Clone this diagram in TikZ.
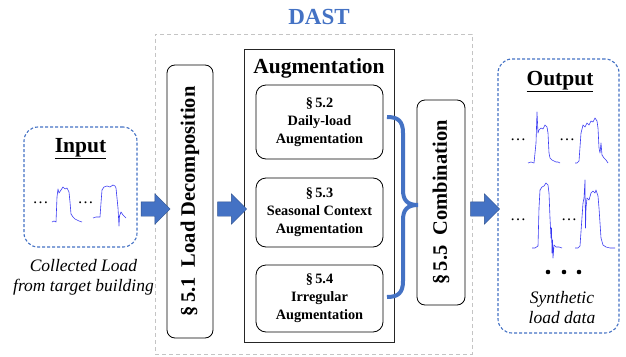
\documentclass[tikz,border=0pt]{standalone}
\usepackage{fontspec}
\setmainfont{Liberation Serif}
\usetikzlibrary{calc,shapes.arrows}
\definecolor{dastblue}{HTML}{4472C4}
\definecolor{arrowedge}{HTML}{2F528F}
\definecolor{loadblue}{HTML}{3A3AF2}
\definecolor{framegray}{HTML}{C4C4C4}

\begin{document}
\begin{tikzpicture}[x=1pt,y=-1pt,
  panel/.style={draw=dastblue, dash pattern=on 3pt off 2pt, line width=1.1pt,
    rounded corners=14pt, inner sep=0pt, outer sep=0pt},
  stage/.style={draw=black, line width=0.8pt, rounded corners=8pt, inner sep=0pt,
    outer sep=0pt, rotate=90, font=\fontsize{20.5}{24}\selectfont\bfseries},
  substage/.style={draw=black, line width=0.8pt, rounded corners=10pt, inner sep=0pt,
    outer sep=0pt, minimum width=127pt, align=center,
    font=\fontsize{14.3}{18}\selectfont\bfseries},
  blockarrow/.style={single arrow, fill=dastblue, draw=arrowedge, line width=0.4pt,
    inner xsep=0pt, inner ysep=7pt, minimum height=29pt,
    single arrow head extend=8pt},
  title/.style={font=\fontsize{21.5}{25}\selectfont\bfseries},
  caption/.style={align=center, font=\fontsize{17.5}{20}\selectfont\itshape},
  gap/.style={font=\fontsize{16}{18}\selectfont, inner sep=0pt},
  loadline/.style={draw=loadblue, line width=0.6pt, line join=round},
]
\useasboundingbox (0,0) rectangle (626,356);

% framework frame and its name
\node[draw=framegray, dash pattern=on 4pt off 3pt, line width=0.9pt,
  minimum width=317pt, minimum height=320pt, inner sep=0pt] (dast) at (313.5,194) {};
\node[font=\fontsize{23}{26}\selectfont\bfseries, text=dastblue, anchor=base]
  (dastname) at (319,24) {DAST};

% input panel
\node[panel, minimum width=113pt, minimum height=120pt] (inbox) at (80.5,187) {};
\node[title, anchor=base] (intitle) at (80.5,152) {\underline{Input}};
\node[gap, anchor=base] (indots1) at (40.5,203) {\dots};
\node[gap, anchor=base] (indots2) at (85.5,203) {\dots};
\draw[loadline, shift={(52,222)}] (0,0) -- (2,-1) -- (4,0) -- (5,-25) -- (6,-33)
  -- (7,-29) -- (9,-32) -- (11,-35) -- (13,-33) -- (15,-34) -- (17,-30) -- (18,-20)
  -- (19,-8) -- (21,-5) -- (23,-3) -- (25,-2) -- (27,-1) -- (30,0);
\draw[loadline, shift={(93,218)}] (0,0) -- (3,-1) -- (7,-1) -- (8,-15) -- (9,-28)
  -- (11,-31) -- (14,-32) -- (17,-31) -- (20,-33) -- (22,-32) -- (23,-30) -- (24,-20)
  -- (25,-10) -- (26,8) -- (26.5,-2) -- (28,-6) -- (30,-3) -- (33,0);
\node[caption] (incap) at (83.5,277) {Collected Load\\from target building};

% decomposition stage
\node[stage, minimum width=273pt, minimum height=46pt] (dec) at (190,201.5)
  {\S\,5.1\ \ Load Decomposition};

% augmentation group
\node[draw=black!85, line width=0.9pt, minimum width=150pt, minimum height=293pt,
  inner sep=0pt, outer sep=0pt] (aug) at (319,195.5) {};
\node[title, anchor=base] (augtitle) at (319,73.5) {Augmentation};
\node[substage, minimum height=74pt] (daily) at (319.5,122)
  {\S\,5.2\\Daily-load\\Augmentation};
\node[substage, minimum height=69pt] (season) at (319.5,212.5)
  {\S\,5.3\\Seasonal Context\\Augmentation};
\node[substage, minimum height=67pt] (irreg) at (319.5,298.5)
  {\S\,5.4\\Irregular\\Augmentation};

% combination stage
\node[stage, minimum width=205pt, minimum height=48pt] (comb) at (441,202.5)
  {\S\,5.5\ \ Combination};

% brace gathering the three augmentations
\coordinate (bracetop) at (387,117);
\coordinate (bracetip) at (418,205);
\coordinate (bracebot) at (387,297);
\draw[dastblue, line width=4pt] (bracetop)
  .. controls (398,117) and (403,121) .. (403,133) -- (403,190)
  .. controls (403,200) and (407,205) .. (bracetip)
  .. controls (407,205) and (403,210) .. (403,220) -- (403,281)
  .. controls (403,293) and (398,297) .. (bracebot);

% output panel
\node[panel, minimum width=121pt, minimum height=274pt] (outbox) at (558.5,196) {};
\node[title, anchor=base] (outtitle) at (560,85) {\underline{Output}};
\node[gap, anchor=base] (outdots1) at (518,140) {\dots};
\node[gap, anchor=base] (outdots2) at (567,140) {\dots};
\node[gap, anchor=base] (outdots3) at (518,220) {\dots};
\node[gap, anchor=base] (outdots4) at (569,220) {\dots};
\draw[loadline, shift={(528,163)}] (0,0) -- (3,-1) -- (6,0) -- (8,-20) -- (9,-51)
  -- (10,-30) -- (11,-33) -- (13,-35) -- (15,-34) -- (17,-38) -- (19,-36) -- (20,-30)
  -- (21,-10) -- (22,-5) -- (24,-3) -- (26,-2) -- (28,-1) -- (30,-1) -- (32,0);
\draw[loadline, shift={(575,163)}] (0,0) -- (2,0) -- (4,-2) -- (6,-30) -- (8,-38)
  -- (10,-36) -- (12,-40) -- (14,-38) -- (16,-42) -- (18,-41) -- (20,-45) -- (22,-42)
  -- (23,-35) -- (24,-15) -- (25,-10) -- (26,-20) -- (27,-8) -- (29,-5) -- (31,-3)
  -- (33,0);
\draw[loadline, shift={(532,248)}] (0,0) -- (3,0) -- (6,-2) -- (7,-40) -- (8,-58)
  -- (10,-61) -- (12,-62) -- (14,-65) -- (16,-63) -- (17,-55) -- (18,-30) -- (19,-10)
  -- (19.5,-20) -- (20,5) -- (20.5,-8) -- (21,10) -- (22,-3) -- (24,-1) -- (27,-1)
  -- (30,0);
\draw[loadline, shift={(575,248)}] (0,0) -- (3,0) -- (5,-2) -- (8,-45) -- (9,-50)
  -- (10,-68) -- (10.5,-20) -- (11,-40) -- (12,-50) -- (14,-48) -- (16,-55) -- (18,-57)
  -- (20,-55) -- (21,-58) -- (23,-52) -- (24,-40) -- (25,-25) -- (26,-10) -- (28,-3)
  -- (31,-1) -- (35,0) -- (40,0);
\foreach \dx in {548,564,579} \fill (\dx,272) circle (2.3pt);
\node[caption] (outcap) at (562,308) {Synthetic\\load data};

% block arrows between the stages
\coordinate (flow) at (0,209);
\coordinate (m1) at ($(inbox.east)!0.5!(dec.north)$);
\coordinate (m2) at ($(dec.south)!0.5!(aug.west)$);
\coordinate (m3) at ($(comb.south)!0.5!(outbox.west)$);
\node[blockarrow] (arr1) at (m1 |- flow) {};
\node[blockarrow] (arr2) at (m2 |- flow) {};
\node[blockarrow] (arr3) at (m3 |- flow) {};
\end{tikzpicture}
\end{document}
